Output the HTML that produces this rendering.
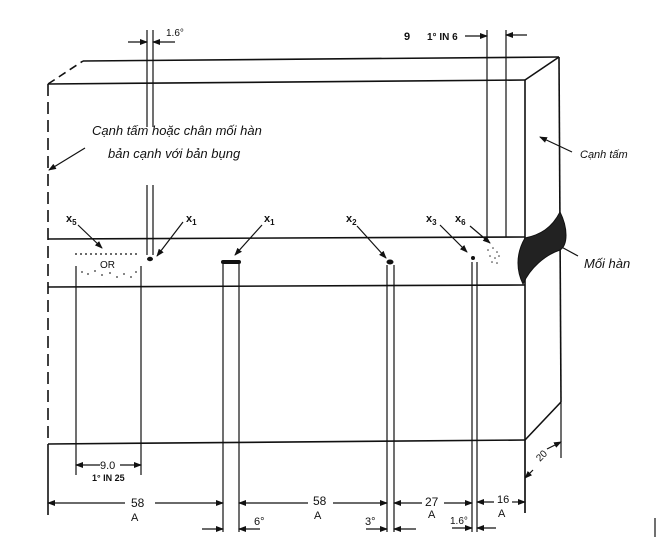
<!DOCTYPE html>
<html><head><meta charset="utf-8"><style>
html,body{margin:0;padding:0;background:#fff}
svg{display:block}
text{font-family:"Liberation Sans",sans-serif;fill:#111}
.it{font-style:italic;font-size:13px}
.s{font-size:11px;font-weight:bold}
</style></head><body>
<svg width="658" height="541" viewBox="0 0 658 541" xmlns="http://www.w3.org/2000/svg">
<defs><marker id="a" markerWidth="8" markerHeight="6" refX="7" refY="3" orient="auto" markerUnits="userSpaceOnUse"><path d="M0,0 L8,3 L0,6z" fill="#111"/></marker></defs>
<g stroke="#111" stroke-width="1.6" fill="none">
<!-- box -->
<line x1="83" y1="61" x2="559" y2="57"/>
<line x1="48" y1="84" x2="525" y2="80"/>
<line x1="48" y1="84" x2="83" y2="61" stroke-dasharray="8,5"/>
<line x1="48" y1="84" x2="48" y2="444" stroke-dasharray="12,6"/>
<line x1="525" y1="80" x2="559" y2="57"/>
<line x1="525" y1="80" x2="525" y2="513"/>
<line x1="559" y1="57" x2="561" y2="402"/>
<line x1="48" y1="444" x2="525" y2="440"/>
<line x1="525" y1="440" x2="561" y2="402"/>
<line x1="48" y1="239" x2="525" y2="237"/>
<line x1="48" y1="287" x2="525" y2="285"/>
<line x1="48" y1="444" x2="48" y2="515"/>
</g>
<g stroke="#111" stroke-width="1.2" fill="none">
<!-- vertical pairs -->
<line x1="147" y1="30" x2="147" y2="127"/><line x1="153" y1="30" x2="153" y2="127"/>
<line x1="147" y1="185" x2="147" y2="255"/><line x1="153" y1="185" x2="153" y2="255"/>
<line x1="76" y1="266" x2="76" y2="475"/><line x1="141" y1="266" x2="141" y2="475"/>
<line x1="223" y1="264" x2="223" y2="532"/><line x1="239" y1="264" x2="239" y2="532"/>
<line x1="387" y1="265" x2="387" y2="532"/><line x1="394" y1="265" x2="394" y2="532"/>
<line x1="472" y1="262" x2="472" y2="532"/><line x1="477" y1="262" x2="477" y2="532"/>
<line x1="487" y1="30" x2="487" y2="237"/><line x1="506" y1="30" x2="506" y2="237"/>
<line x1="525" y1="440" x2="525" y2="513"/>
<line x1="561" y1="402" x2="561" y2="458"/>
<!-- top dims -->
<line x1="128" y1="42" x2="147" y2="42" marker-end="url(#a)"/>
<line x1="175" y1="42" x2="153" y2="42" marker-end="url(#a)"/>
<line x1="465" y1="36" x2="487" y2="36" marker-end="url(#a)"/>
<line x1="527" y1="35" x2="506" y2="35" marker-end="url(#a)"/>
<!-- leaders -->
<line x1="85" y1="148" x2="49" y2="170" marker-end="url(#a)"/>
<line x1="572" y1="152" x2="540" y2="137" marker-end="url(#a)"/>
<line x1="578" y1="256" x2="556" y2="244"/>
<line x1="78" y1="225" x2="102" y2="248" marker-end="url(#a)"/>
<line x1="183" y1="222" x2="157" y2="256" marker-end="url(#a)"/>
<line x1="262" y1="225" x2="235" y2="255" marker-end="url(#a)"/>
<line x1="357" y1="226" x2="386" y2="258" marker-end="url(#a)"/>
<line x1="440" y1="225" x2="467" y2="252" marker-end="url(#a)"/>
<line x1="470" y1="226" x2="490" y2="243" marker-end="url(#a)"/>
<line x1="75" y1="254" x2="137" y2="254" stroke-dasharray="2,3"/>
<!-- bottom dims -->
<line x1="100" y1="465" x2="76" y2="465" marker-end="url(#a)"/>
<line x1="120" y1="465" x2="141" y2="465" marker-end="url(#a)"/>
<line x1="125" y1="503" x2="48" y2="503" marker-end="url(#a)"/>
<line x1="155" y1="503" x2="223" y2="503" marker-end="url(#a)"/>
<line x1="308" y1="503" x2="239" y2="503" marker-end="url(#a)"/>
<line x1="333" y1="503" x2="387" y2="503" marker-end="url(#a)"/>
<line x1="422" y1="503" x2="394" y2="503" marker-end="url(#a)"/>
<line x1="444" y1="503" x2="472" y2="503" marker-end="url(#a)"/>
<line x1="494" y1="502" x2="477" y2="502" marker-end="url(#a)"/>
<line x1="512" y1="502" x2="525" y2="502" marker-end="url(#a)"/>
<line x1="202" y1="529" x2="223" y2="529" marker-end="url(#a)"/>
<line x1="260" y1="529" x2="239" y2="529" marker-end="url(#a)"/>
<line x1="366" y1="529" x2="387" y2="529" marker-end="url(#a)"/>
<line x1="416" y1="529" x2="394" y2="529" marker-end="url(#a)"/>
<line x1="452" y1="528" x2="472" y2="528" marker-end="url(#a)"/>
<line x1="496" y1="528" x2="477" y2="528" marker-end="url(#a)"/>
<line x1="533" y1="470" x2="525" y2="478" marker-end="url(#a)"/>
<line x1="547" y1="449" x2="561" y2="442" marker-end="url(#a)"/>
<line x1="655" y1="518" x2="655" y2="537"/>
</g>
<!-- dots/markers -->
<ellipse cx="150" cy="259" rx="3" ry="2.2" fill="#111"/>
<rect x="221" y="260" width="20" height="4" rx="2" fill="#111"/>
<ellipse cx="390" cy="262" rx="3.5" ry="2.5" fill="#111"/>
<circle cx="473" cy="258" r="2" fill="#111"/>
<g fill="#333">
<circle cx="488" cy="250" r=".8"/><circle cx="493" cy="248" r=".8"/><circle cx="497" cy="252" r=".8"/><circle cx="490" cy="256" r=".8"/><circle cx="495" cy="258" r=".8"/><circle cx="499" cy="256" r=".8"/><circle cx="492" cy="262" r=".8"/><circle cx="497" cy="263" r=".8"/>
<circle cx="82" cy="272" r=".9"/><circle cx="88" cy="274" r=".9"/><circle cx="95" cy="271" r=".9"/><circle cx="102" cy="275" r=".9"/><circle cx="110" cy="273" r=".9"/><circle cx="117" cy="277" r=".9"/><circle cx="124" cy="274" r=".9"/><circle cx="131" cy="277" r=".9"/><circle cx="136" cy="272" r=".9"/>
</g>
<path d="M560,212 C568,228 568,245 560,250 C545,255 530,268 523,284 C517,272 515,255 525,238 C540,235 552,228 560,212Z" fill="#222" stroke="#111" stroke-width="1"/>
<!-- texts -->
<text x="166" y="36" style="font-size:10px">1.6°</text>
<text x="404" y="40" class="s">9</text>
<text x="427" y="40" style="font-size:10px;font-weight:bold">1° IN 6</text>
<text x="92" y="135" class="it">Cạnh tấm  hoặc chân mối hàn</text>
<text x="108" y="158" class="it">bản  cạnh với bản bụng</text>
<text x="580" y="158" class="it" style="font-size:11px">Cạnh tấm</text>
<text x="584" y="268" class="it">Mối hàn</text>
<text x="66" y="222" class="s">x<tspan font-size="8" dy="3">5</tspan></text>
<text x="186" y="222" class="s">x<tspan font-size="8" dy="3">1</tspan></text>
<text x="264" y="222" class="s">x<tspan font-size="8" dy="3">1</tspan></text>
<text x="346" y="222" class="s">x<tspan font-size="8" dy="3">2</tspan></text>
<text x="426" y="222" class="s">x<tspan font-size="8" dy="3">3</tspan></text>
<text x="455" y="222" class="s">x<tspan font-size="8" dy="3">6</tspan></text>
<text x="100" y="268" style="font-size:10px">OR</text>
<text x="100" y="469" style="font-size:11px">9.0</text>
<text x="92" y="481" style="font-size:9px;font-weight:bold">1° IN 25</text>
<text x="131" y="507" style="font-size:12px">58</text><text x="131" y="521" style="font-size:11px">A</text>
<text x="313" y="505" style="font-size:12px">58</text><text x="314" y="519" style="font-size:11px">A</text>
<text x="425" y="506" style="font-size:12px">27</text><text x="428" y="518" style="font-size:11px">A</text>
<text x="497" y="503" style="font-size:11px">16</text><text x="498" y="517" style="font-size:11px">A</text>
<text x="254" y="525" style="font-size:11px">6°</text>
<text x="365" y="525" style="font-size:11px">3°</text>
<text x="450" y="524" style="font-size:10px">1.6°</text>
<text x="0" y="0" style="font-size:10px" transform="translate(540,462) rotate(-45)">20</text>
</svg>
</body></html>
